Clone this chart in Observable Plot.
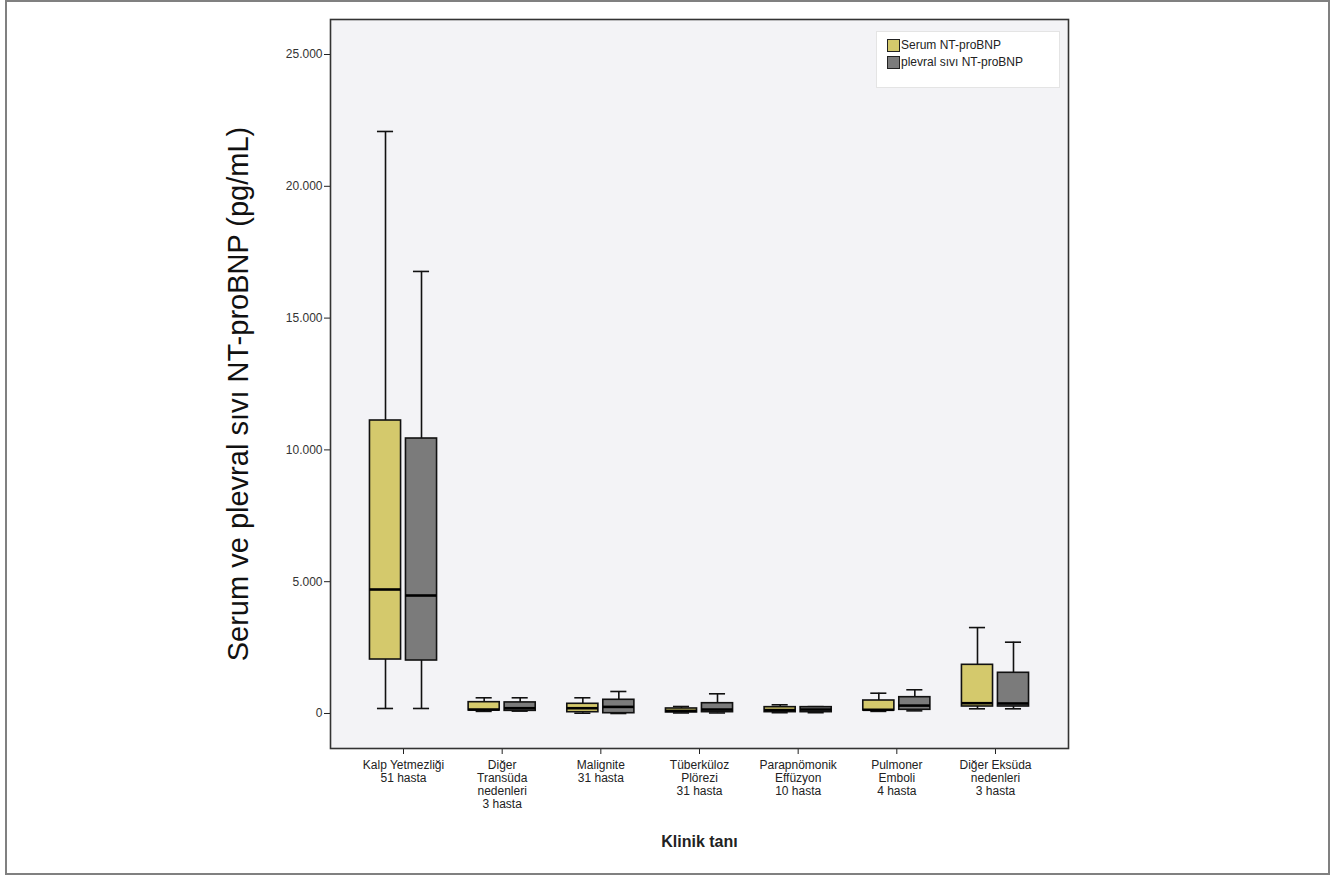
<!DOCTYPE html>
<html>
<head>
<meta charset="utf-8">
<script src="https://cdn.jsdelivr.net/npm/d3@7"></script>
<script src="https://cdn.jsdelivr.net/npm/@observablehq/plot@0.6"></script>
<style>
  html, body { margin: 0; padding: 0; background: #fff; }
  #wrap { position: relative; width: 1332px; height: 875px; font-family: "Liberation Sans", Arial, sans-serif; }
  #border { position: absolute; left: 5px; top: 0px; width: 1321px; height: 871px; border: 2px solid #808080; box-sizing: content-box; pointer-events: none; }
  #legend { position: absolute; left: 876px; top: 31px; width: 184px; height: 57px; background: #fff; border: 1px solid #e4e4e4; box-sizing: border-box; font-size: 12px; color: #222; }
  .item { position: absolute; left: 10px; display: flex; align-items: center; white-space: nowrap; }
  .sw { width: 11px; height: 11px; border: 1.5px solid #222; margin-right: 1px; }
</style>
</head>
<body>
<div id="wrap">
  <div id="chart"></div>
  <div id="legend">
    <div class="item" style="top:6px"><div class="sw" style="background:#d4c96c"></div><span>Serum NT-proBNP</span></div>
    <div class="item" style="top:23px"><div class="sw" style="background:#7b7b7b"></div><span>plevral sıvı NT-proBNP</span></div>
  </div>
  <div id="border"></div>
</div>
<script>
const categories = [
  "Kalp Yetmezliği\n51 hasta",
  "Diğer\nTransüda\nnedenleri\n3 hasta",
  "Malignite\n31 hasta",
  "Tüberküloz\nPlörezi\n31 hasta",
  "Parapnömonik\nEffüzyon\n10 hasta",
  "Pulmoner\nEmboli\n4 hasta",
  "Diğer Eksüda\nnedenleri\n3 hasta"
];
const seriesNames = ["Serum NT-proBNP", "plevral sıvı NT-proBNP"];

// Serum NT-proBNP
const serumMin    = [190,   80,  10,  20,  30,  80,  178];
const serumQ1     = [2048, 114,  49,  40,  50, 114,  265];
const serumMedian = [4704, 150, 200, 100, 130, 140,  390];
const serumQ3     = [11115, 429, 368, 190, 240, 493, 1847];
const serumMax    = [22080, 596, 596, 265, 330, 770, 3260];

// Plevral sıvı NT-proBNP
const plevralMin    = [190,   90,   0,  20,  30, 100,  178];
const plevralQ1     = [2010, 100,  11,  50,  50, 140,  265];
const plevralMedian = [4476, 200, 250, 150, 150, 300,  380];
const plevralQ3     = [10432, 420, 520, 390, 240, 618, 1544];
const plevralMax    = [16770, 596, 835, 747, 260, 900, 2705];

const yTicks = [0, 5000, 10000, 15000, 20000, 25000];

const serumRows = categories.map((c, i) => ({cat: c, min: serumMin[i], q1: serumQ1[i], median: serumMedian[i], q3: serumQ3[i], max: serumMax[i]}));
const plevralRows = categories.map((c, i) => ({cat: c, min: plevralMin[i], q1: plevralQ1[i], median: plevralMedian[i], q3: plevralQ3[i], max: plevralMax[i]}));

function boxMarks(data, fill, left) {
  const boxIn = 36, capNear = 7.5, capFar = 43.5, off = 18;
  return [
    Plot.ruleX(data, {x: "cat", y1: "q3", y2: "max", dx: left ? -off : off, stroke: "#111", strokeWidth: 1.6}),
    Plot.ruleX(data, {x: "cat", y1: "min", y2: "q1", dx: left ? -off : off, stroke: "#111", strokeWidth: 1.6}),
    Plot.tickY(data, {x: "cat", y: "max", insetLeft: left ? capNear : capFar, insetRight: left ? capFar : capNear, stroke: "#111", strokeWidth: 1.6}),
    Plot.tickY(data, {x: "cat", y: "min", insetLeft: left ? capNear : capFar, insetRight: left ? capFar : capNear, stroke: "#111", strokeWidth: 1.6}),
    Plot.barY(data, {x: "cat", y1: "q1", y2: "q3", fill, stroke: "#111", strokeWidth: 1.6, insetLeft: left ? 0 : boxIn, insetRight: left ? boxIn : 0}),
    Plot.tickY(data, {x: "cat", y: "median", insetLeft: left ? 0 : boxIn, insetRight: left ? boxIn : 0, stroke: "#000", strokeWidth: 2.6})
  ];
}

const fmt = d => d3.format(",")(d).replace(/,/g, ".");

const chart = Plot.plot({
  width: 1332,
  height: 875,
  marginLeft: 330,
  marginRight: 264,
  marginTop: 19,
  marginBottom: 127,
  style: {fontFamily: "'Liberation Sans', Arial, sans-serif", background: "transparent", color: "#222"},
  x: {domain: categories, paddingInner: 0.32, paddingOuter: 0.4, round: false},
  y: {domain: [-1328, 26328]},
  marks: [
    Plot.frame({fill: "#f3f3f6", stroke: null}),
    Plot.axisY({ticks: yTicks, tickFormat: fmt, tickSize: 6, tickPadding: 2, fontSize: 12, label: null, stroke: "#222", fill: "#333"}),
    Plot.axisX({tickSize: 6, tickPadding: 5, fontSize: 12, lineHeight: 1.08, label: null, stroke: "#222", fill: "#222"}),
    ...boxMarks(serumRows, "#d4c96c", true),
    ...boxMarks(plevralRows, "#7b7b7b", false),
    Plot.frame({stroke: "#333", strokeWidth: 1.6}),
    Plot.text(["Klinik tanı"], {frameAnchor: "bottom", dy: 98, fontSize: 16, fontWeight: "bold", fill: "#222"}),
    Plot.text(["Serum ve plevral sıvı NT-proBNP (pg/mL)"], {frameAnchor: "left", textAnchor: "middle", rotate: -90, dx: -92, dy: 10, fontSize: 29, fill: "#111"})
  ]
});
document.getElementById("chart").appendChild(chart);
</script>
</body>
</html>
